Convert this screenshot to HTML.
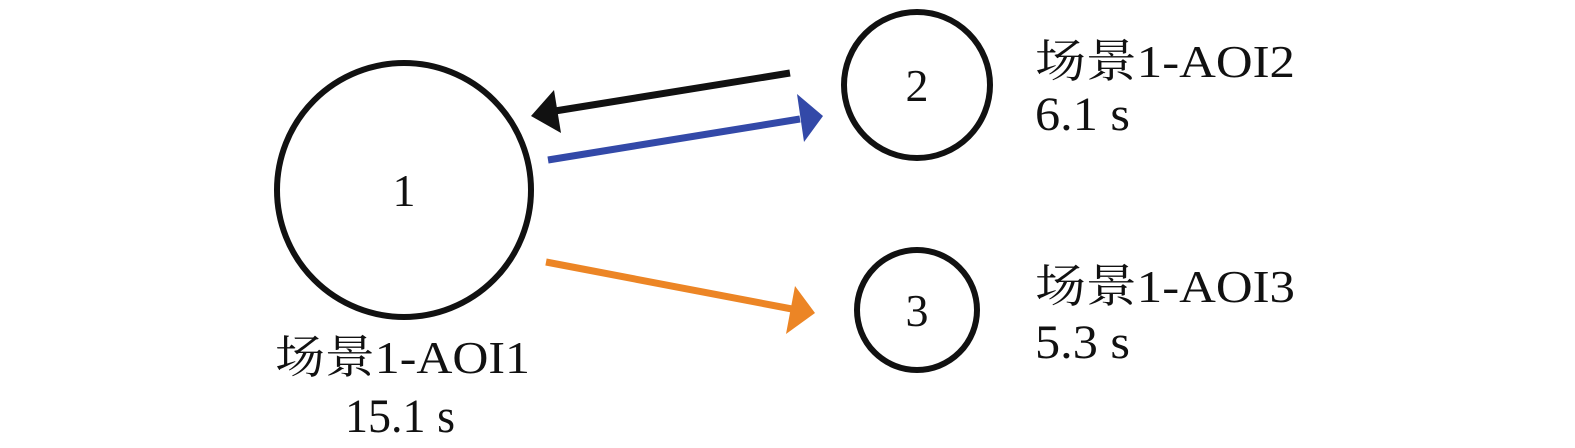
<!DOCTYPE html>
<html><head><meta charset="utf-8"><style>html,body{margin:0;padding:0;background:#fff}</style></head>
<body>
<svg width="1575" height="448" viewBox="0 0 1575 448" xmlns="http://www.w3.org/2000/svg" style="display:block">
<g fill="none" stroke="#111" stroke-width="6">
<circle cx="404" cy="190" r="127"/>
<circle cx="917" cy="85" r="73"/>
<circle cx="917" cy="310" r="60"/>
</g>
<g stroke-width="7" stroke-linecap="butt">
<line x1="790" y1="73" x2="555" y2="111" stroke="#111"/>
<polygon points="531,116 554,90 561,133" fill="#111"/>
<line x1="548" y1="160" x2="800" y2="119" stroke="#3349a8"/>
<polygon points="823,116 797,94 804,142" fill="#3349a8"/>
<line x1="546" y1="262" x2="792" y2="309" stroke="#ec8525"/>
<polygon points="815,313 795,286 786,334" fill="#ec8525"/>
</g>
<g font-family="'Liberation Serif','Noto Serif CJK SC',serif" fill="#111">
<text x="404" y="206" font-size="46" text-anchor="middle">1</text>
<text x="917" y="101" font-size="46" text-anchor="middle">2</text>
<text x="917" y="326" font-size="46" text-anchor="middle">3</text>
<text x="275" y="373" font-size="46" textLength="255" lengthAdjust="spacingAndGlyphs">场景1-AOI1</text>
<text x="345" y="432" font-size="48" textLength="110" lengthAdjust="spacingAndGlyphs">15.1 s</text>
<text x="1035" y="77" font-size="46" textLength="260" lengthAdjust="spacingAndGlyphs">场景1-AOI2</text>
<text x="1035" y="130" font-size="48" textLength="95" lengthAdjust="spacingAndGlyphs">6.1 s</text>
<text x="1035" y="302" font-size="46" textLength="260" lengthAdjust="spacingAndGlyphs">场景1-AOI3</text>
<text x="1035" y="358" font-size="48" textLength="95" lengthAdjust="spacingAndGlyphs">5.3 s</text>
</g>
</svg>
</body></html>
